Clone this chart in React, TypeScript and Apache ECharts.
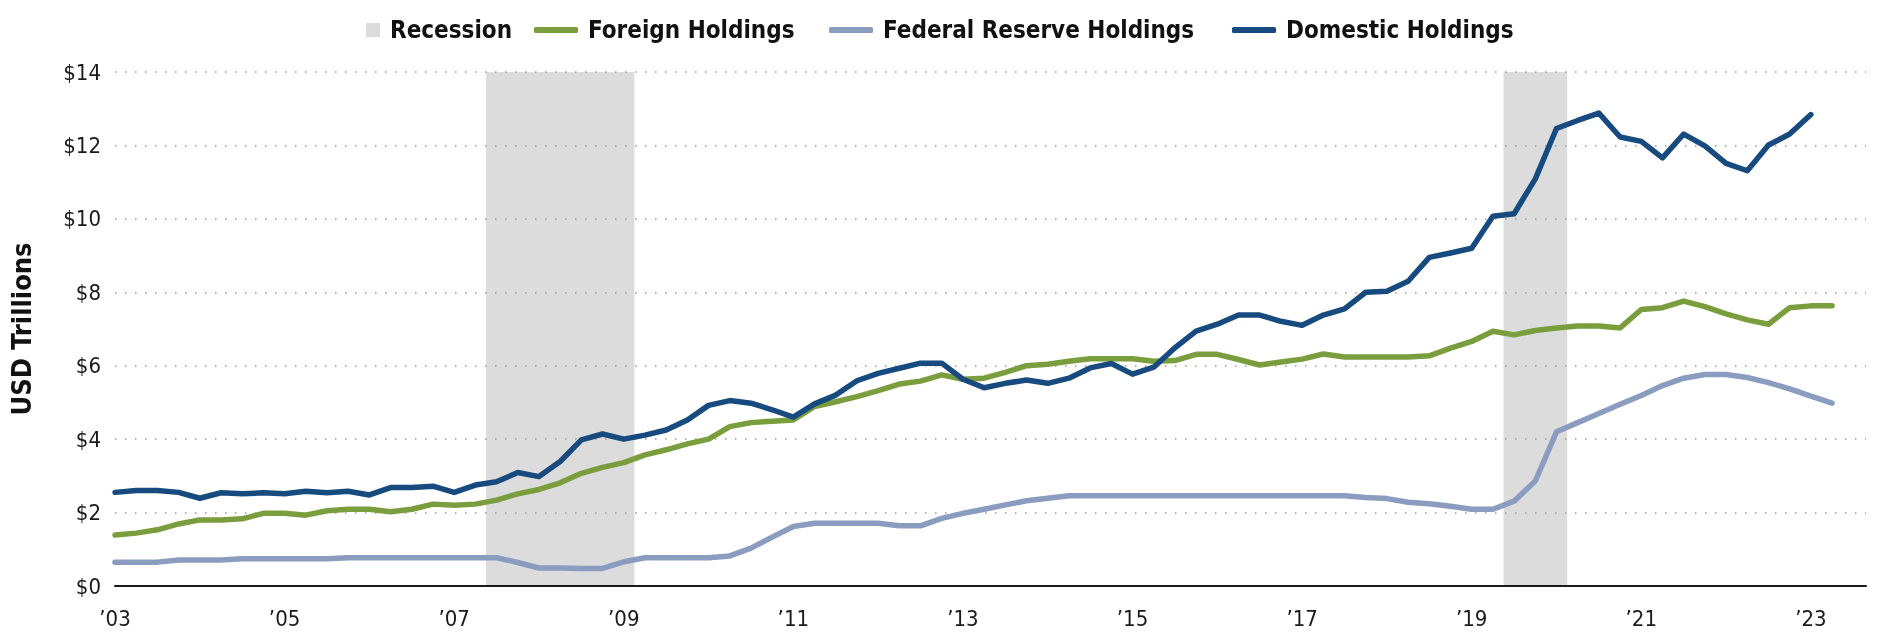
import React, { useEffect, useRef } from 'react';
import * as echarts from 'echarts';

// Quarterly observations, index 0 = Q1 2003
const tickLabels = ['’03', '’05', '’07', '’09', '’11', '’13', '’15', '’17', '’19', '’21', '’23'];

const domestic = [
  2.55, 2.6, 2.6, 2.55, 2.39, 2.54, 2.51, 2.54, 2.51, 2.58,
  2.54, 2.58, 2.48, 2.68, 2.68, 2.72, 2.55, 2.75, 2.84, 3.09,
  2.98, 3.39, 3.98, 4.14, 4.0, 4.11, 4.25, 4.52, 4.92, 5.05,
  4.98, 4.8, 4.6, 4.96, 5.2, 5.59, 5.79, 5.93, 6.07, 6.07,
  5.63, 5.4, 5.52, 5.61, 5.52, 5.66, 5.94, 6.06, 5.77, 5.96,
  6.49, 6.94, 7.13, 7.38, 7.38, 7.21, 7.1, 7.38, 7.55, 8.0,
  8.03, 8.3, 8.95, 9.07, 9.2, 10.07, 10.14, 11.09, 12.46, 12.68,
  12.88, 12.23, 12.11, 11.66, 12.31, 11.99, 11.51, 11.31, 12.01, 12.31,
  12.84,
];

const foreign = [
  1.39, 1.44, 1.53, 1.69, 1.8, 1.8, 1.83, 1.98, 1.98, 1.93,
  2.05, 2.09, 2.09, 2.02, 2.09, 2.23, 2.2, 2.23, 2.34, 2.51,
  2.63, 2.81, 3.07, 3.23, 3.36, 3.57, 3.71, 3.87, 4.0, 4.34,
  4.45, 4.49, 4.52, 4.89, 5.02, 5.16, 5.32, 5.5, 5.58, 5.75,
  5.63, 5.66, 5.82, 6.0, 6.04, 6.12, 6.19, 6.19, 6.19, 6.12,
  6.14, 6.31, 6.31, 6.17, 6.02, 6.1, 6.18, 6.32, 6.24, 6.24,
  6.24, 6.24, 6.27, 6.48, 6.66, 6.94, 6.84, 6.96, 7.03, 7.08,
  7.08, 7.03, 7.53, 7.58, 7.76, 7.61, 7.41, 7.25, 7.13, 7.58,
  7.63, 7.63,
];

const fedReserve = [
  0.65, 0.65, 0.65, 0.71, 0.71, 0.71, 0.745, 0.745, 0.745, 0.745,
  0.745, 0.77, 0.77, 0.77, 0.77, 0.77, 0.77, 0.77, 0.77, 0.64,
  0.49, 0.49, 0.48, 0.48, 0.66, 0.77, 0.77, 0.77, 0.77, 0.82,
  1.03, 1.33, 1.62, 1.71, 1.71, 1.71, 1.71, 1.64, 1.64, 1.84,
  1.98, 2.09, 2.21, 2.32, 2.39, 2.46, 2.46, 2.46, 2.46, 2.46,
  2.46, 2.46, 2.46, 2.46, 2.46, 2.46, 2.46, 2.46, 2.46, 2.41,
  2.38, 2.28, 2.24, 2.17, 2.09, 2.09, 2.31, 2.86, 4.2, 4.45,
  4.7, 4.95, 5.19, 5.46, 5.66, 5.76, 5.76, 5.68, 5.54, 5.37,
  5.17, 4.98,
];

// Recession spans in quarter-index units
const recessions: [number, number][] = [
  [17.5, 24.5],
  [65.5, 68.5],
];

const FONT = "'Liberation Sans Narrow', 'DejaVu Sans Condensed', 'Arial Narrow', 'Liberation Sans', sans-serif";

const COLORS = {
  recession: '#DCDCDC',
  foreign: '#7A9E3D',
  fed: '#8A9CBF',
  domestic: '#174B7F',
};

export default function App() {
  const ref = useRef<HTMLDivElement>(null);

  useEffect(() => {
    if (!ref.current) return;
    const chart = echarts.init(ref.current, undefined, { renderer: 'svg' });

    const legendBase = {
      top: 18,
      padding: 0,
      itemWidth: 44,
      selectedMode: false,
      textStyle: {
        fontSize: 24,
        fontWeight: 'bold',
        color: '#111',
        fontFamily: FONT,
        padding: [0, 0, 0, 5],
      },
    };

    const lineLegend = (name: string, color: string, left: number) => ({
      ...legendBase,
      left,
      itemHeight: 6,
      data: [{ name, icon: 'roundRect', itemStyle: { color, borderWidth: 0 } }],
    });

    const lineSeries = (name: string, values: number[], color: string) => ({
      name,
      type: 'line',
      data: values.map((v, i) => [i, v]),
      symbol: 'none',
      showSymbol: false,
      z: 3,
      itemStyle: { color },
      lineStyle: { color, width: 5.5, cap: 'round', join: 'round' },
    });

    chart.setOption({
      animation: false,
      textStyle: { fontFamily: FONT },
      grid: { left: 111, right: 13, top: 72, bottom: 48, containLabel: false },
      legend: [
        {
          ...legendBase,
          left: 336,
          itemHeight: 14,
          data: [
            {
              name: 'Recession',
              icon: 'path://M0 0h0.01v0.01h-0.01z M30 0h14v14h-14z',
              itemStyle: { color: COLORS.recession },
            },
          ],
        },
        lineLegend('Foreign Holdings', COLORS.foreign, 534),
        lineLegend('Federal Reserve Holdings', COLORS.fed, 829),
        lineLegend('Domestic Holdings', COLORS.domestic, 1232),
      ],
      xAxis: {
        type: 'value',
        min: 0,
        max: 82.6,
        interval: 8,
        z: 4,
        axisLine: { show: true, lineStyle: { color: '#1a1a1a', width: 2 } },
        axisTick: { show: false },
        splitLine: { show: false },
        axisLabel: {
          fontSize: 22,
          color: '#1a1a1a',
          fontFamily: FONT,
          margin: 21,
          formatter: (v: number) => (v % 8 === 0 ? tickLabels[v / 8] ?? '' : ''),
        },
      },
      yAxis: {
        type: 'value',
        min: 0,
        max: 14,
        interval: 2,
        z: 2,
        name: 'USD Trillions',
        nameLocation: 'middle',
        nameGap: 80,
        nameRotate: 90,
        nameTextStyle: { fontSize: 27, fontWeight: 'bold', color: '#111', fontFamily: FONT },
        axisLine: { show: false },
        axisTick: { show: false },
        axisLabel: {
          fontSize: 22,
          color: '#1a1a1a',
          fontFamily: FONT,
          margin: 14,
          formatter: (v: number) => '$' + v,
        },
        splitLine: {
          show: true,
          lineStyle: { color: '#9a9a9a', width: 1.5, type: [1.5, 8.5] },
        },
      },
      series: [
        {
          name: 'Recession',
          type: 'line',
          data: [],
          z: 1,
          itemStyle: { color: COLORS.recession },
          lineStyle: { color: COLORS.recession },
          markArea: {
            silent: true,
            z: 1,
            itemStyle: { color: COLORS.recession },
            data: recessions.map(([a, b]) => [{ xAxis: a }, { xAxis: b }]),
          },
        },
        lineSeries('Federal Reserve Holdings', fedReserve, COLORS.fed),
        lineSeries('Foreign Holdings', foreign, COLORS.foreign),
        lineSeries('Domestic Holdings', domestic, COLORS.domestic),
      ],
    });

    return () => chart.dispose();
  }, []);

  return (
    <div
      ref={ref}
      style={{ position: 'fixed', left: 0, top: 0, width: 1879, height: 634 }}
    />
  );
}
